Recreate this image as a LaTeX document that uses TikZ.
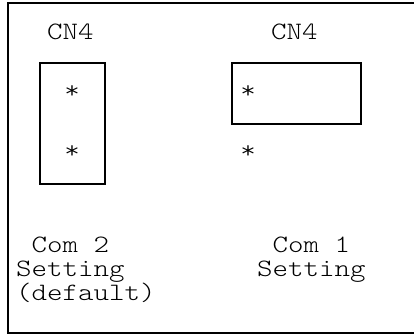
\documentclass[tikz,border=0pt]{standalone}
\usepackage{fontspec}
\newfontfamily\courfont{lmmonolt10-regular.otf}[FakeStretch=1.18]
\begin{document}
\begin{tikzpicture}[x=1pt,y=-1pt,
  lbl/.style={font=\courfont\fontsize{25}{25}\selectfont, inner sep=0pt, anchor=base west},
  pin/.style={font=\courfont\fontsize{25}{25}\selectfont, inner sep=0pt, anchor=north},
  pinbox/.style={draw, line width=1.6pt, inner sep=0pt},
  frame/.style={line width=2pt}]
\useasboundingbox (0,0) rectangle (414,335);
% frame
\coordinate (tr) at (414,3);
\coordinate (tl) at (8,3);
\coordinate (bl) at (8,333);
\coordinate (br) at (414,333);
\draw[frame] (tr) -- (tl) -- (bl) -- (br);
% titles
\node[lbl] (cnL) at (47,39) {CN4};
\node[lbl] (cnR) at (271,39) {CN4};
% boxes
\node[pinbox, minimum width=65pt, minimum height=121pt] (boxL) at (72.5,123.5) {};
\node[pinbox, minimum width=129pt, minimum height=61pt] (boxR) at (296.5,93.5) {};
% pins
\node[pin] (pL1) at (72,85) {*};
\node[pin] (pL2) at (72,145) {*};
\node[pin] (pR1) at (248,85) {*};
\node[pin] (pR2) at (248,145) {*};
% captions
\node[lbl] (tL1) at (16,252) {\ Com 2};
\node[lbl] (tL2) at (16,276) {Setting};
\node[lbl] (tL3) at (16,300) {(default)};
\node[lbl] (tR1) at (257,252) {\ Com 1};
\node[lbl] (tR2) at (257,276) {Setting};
\end{tikzpicture}
\end{document}
